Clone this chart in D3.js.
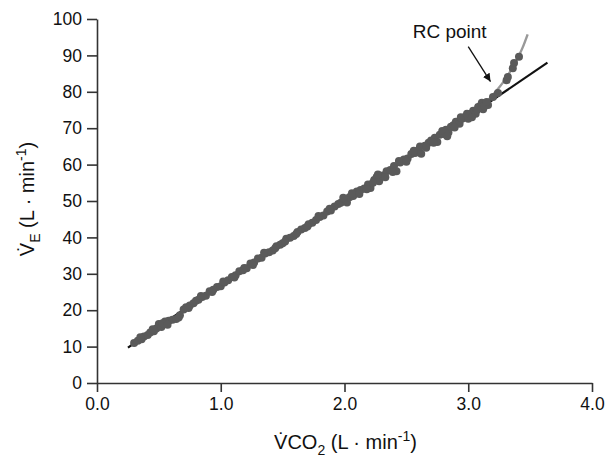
<!DOCTYPE html>
<meta charset="utf-8">
<script src="https://d3js.org/d3.v7.min.js"></script>
<style>
  body { margin: 0; background: #fff; }
  text { font-family: "Liberation Sans", Arial, Helvetica, sans-serif; }
</style>
<div id="my_dataviz"></div>
<script>

// breath-by-breath points (VCO2 L/min, VE L/min)
var vco2 = [0.30,0.33,0.36,0.38,0.41,0.43,0.46,0.48,0.50,0.52,0.55,0.58,0.61,0.64,0.67,0.70,0.72,0.75,0.78,0.80,
            0.82,0.85,0.88,0.91,0.94,0.97,1.00,1.03,1.06,1.09,1.12,1.15,1.18,1.21,1.24,1.27,1.30,1.33,1.36,1.39,
            1.42,1.45,1.48,1.50,1.53,1.56,1.59,1.62,1.65,1.68,1.71,1.74,1.77,1.80,1.83,1.86,1.89,1.92,1.95,1.97,
            2.00,2.02,2.04,2.07,2.10,2.13,2.16,2.19,2.21,2.24,2.26,2.28,2.31,2.34,2.37,2.40,2.42,2.45,2.48,2.51,
            2.54,2.57,2.60,2.62,2.65,2.68,2.70,2.73,2.75,2.77,2.80,2.82,2.84,2.86,2.88,2.90,2.93,2.95,2.97,3.00,
            3.02,3.04,3.06,3.08,3.10,3.12,3.14,3.16,
            0.35,0.45,0.53,0.57,0.66,0.74,0.84,0.93,1.02,1.11,1.19,1.26,1.35,1.44,1.52,1.61,1.70,1.79,1.88,1.99,
            2.06,2.12,2.18,2.23,2.27,2.33,2.39,2.44,2.50,2.56,2.61,2.66,2.72,2.79,2.83,2.89,2.94,2.99,3.03,3.07,
            3.11,3.13,
            3.15,3.20,3.24,3.31,3.32,3.36,3.37,3.41];
var ve   = [11.0,11.6,12.0,12.8,13.2,13.9,14.2,15.0,16.2,15.4,16.9,17.1,17.4,17.6,18.6,20.2,20.8,21.3,21.9,22.6,
            22.9,23.6,24.0,25.2,25.6,26.4,26.6,27.6,28.2,29.1,29.6,30.7,31.0,31.5,32.8,33.1,34.2,34.4,35.6,35.9,
            36.4,37.6,38.0,38.4,39.6,39.9,40.4,41.5,42.2,42.6,43.6,44.0,44.8,45.6,46.0,47.1,47.4,48.5,49.2,49.5,
            50.4,49.6,51.0,51.4,52.6,53.0,53.4,54.5,53.6,55.8,56.6,55.4,57.0,58.2,58.5,59.6,58.2,60.6,61.4,61.7,
            62.9,63.2,64.0,63.0,65.2,66.0,66.6,67.4,66.2,68.2,68.4,69.6,68.8,70.4,70.8,71.8,71.2,72.6,73.0,72.6,
            74.0,74.8,74.0,75.8,76.2,75.2,77.0,76.4,
            12.6,14.8,16.4,16.0,18.0,20.6,23.9,25.0,27.9,29.0,31.6,32.4,35.8,37.0,38.9,40.9,43.0,45.9,47.9,50.9,
            52.1,51.9,53.2,55.0,57.3,56.5,58.0,61.0,60.8,63.8,65.0,64.6,66.0,69.2,67.8,70.2,73.0,74.0,73.0,75.0,
            77.0,76.0,
            77.2,78.6,79.7,83.2,84.1,86.5,87.9,89.6];

// linear fit below the RC point
var fitX = [0.25, 3.64];
var fitY = [9.7, 88.0];

// curve above the RC point
var curveX = [3.10, 3.20, 3.30, 3.38, 3.44, 3.48];
var curveY = [75.6, 79.2, 83.5, 88.0, 92.2, 95.8];

// annotation
var rcLabel = "RC point";
var rcText = [2.85, 94.8];
var rcArrowFrom = [3.00, 92.4];
var rcArrowTo = [3.18, 82.8];

var xTicks = [0, 1, 2, 3, 4];
var yTicks = [0, 10, 20, 30, 40, 50, 60, 70, 80, 90, 100];

// set the dimensions and margins of the graph
var margin = {top: 19, right: 23, bottom: 74, left: 97},
    width = 615 - margin.left - margin.right,
    height = 457 - margin.top - margin.bottom;

var svg = d3.select("#my_dataviz")
  .append("svg")
    .attr("width", 615)
    .attr("height", 457)
  .append("g")
    .attr("transform", "translate(" + margin.left + "," + margin.top + ")");

var x = d3.scaleLinear().domain([0, 4]).range([0, width]);
var y = d3.scaleLinear().domain([0, 100]).range([height, 0]);

// arrow head
svg.append("defs").append("marker")
    .attr("id", "head")
    .attr("viewBox", "0 0 10 10")
    .attr("refX", 10).attr("refY", 5)
    .attr("markerWidth", 8).attr("markerHeight", 8)
    .attr("markerUnits", "userSpaceOnUse")
    .attr("orient", "auto")
  .append("path")
    .attr("d", "M0,0L10,5L0,10Z")
    .attr("fill", "#111");

// axes
var xAxis = svg.append("g")
    .attr("transform", "translate(0," + height + ")")
    .call(d3.axisBottom(x).tickValues(xTicks).tickFormat(d3.format(".1f")).tickSize(9).tickSizeOuter(0).tickPadding(6));
var yAxis = svg.append("g")
    .call(d3.axisLeft(y).tickValues(yTicks).tickSize(10).tickSizeOuter(0).tickPadding(5));

[xAxis, yAxis].forEach(function(a) {
  a.select(".domain").attr("stroke", "#333").attr("stroke-width", 1.6);
  a.selectAll(".tick line").attr("stroke", "#333").attr("stroke-width", 1.6);
  a.selectAll(".tick text").attr("fill", "#111").style("font-size", "17.5px")
    .style("font-family", "'Liberation Sans', Arial, Helvetica, sans-serif");
});

// fitted line
svg.append("path")
    .datum(d3.zip(fitX, fitY))
    .attr("fill", "none")
    .attr("stroke", "#111")
    .attr("stroke-width", 2.2)
    .attr("d", d3.line().x(function(d) { return x(d[0]); }).y(function(d) { return y(d[1]); }));

// curve after RC point
svg.append("path")
    .datum(d3.zip(curveX, curveY))
    .attr("fill", "none")
    .attr("stroke", "#999")
    .attr("stroke-width", 2.4)
    .attr("d", d3.line().curve(d3.curveMonotoneX).x(function(d) { return x(d[0]); }).y(function(d) { return y(d[1]); }));

// points
svg.selectAll("circle")
  .data(d3.zip(vco2, ve))
  .enter()
  .append("circle")
    .attr("cx", function(d) { return x(d[0]); })
    .attr("cy", function(d) { return y(d[1]); })
    .attr("r", 4)
    .attr("fill", "#5a5a5a");

// RC point annotation
svg.append("text")
    .attr("x", x(rcText[0]))
    .attr("y", y(rcText[1]))
    .attr("text-anchor", "middle")
    .style("font-size", "19px")
    .attr("fill", "#111")
    .text(rcLabel);
svg.append("line")
    .attr("x1", x(rcArrowFrom[0])).attr("y1", y(rcArrowFrom[1]))
    .attr("x2", x(rcArrowTo[0])).attr("y2", y(rcArrowTo[1]))
    .attr("stroke", "#111")
    .attr("stroke-width", 1.3)
    .attr("marker-end", "url(#head)");

// axis titles
var xt = svg.append("text")
    .attr("x", width / 2 + 1)
    .attr("y", height + 66)
    .attr("text-anchor", "middle")
    .style("font-size", "20px")
    .attr("fill", "#111");
xt.append("tspan").text("V\u0307CO");
xt.append("tspan").attr("dy", 6).style("font-size", "14px").text("2");
xt.append("tspan").attr("dy", -6).text(" (L \u00b7 min");
xt.append("tspan").attr("dy", -8).style("font-size", "14px").text("-1");
xt.append("tspan").attr("dy", 8).text(")");

var yt = svg.append("text")
    .attr("transform", "translate(" + (-63) + "," + (height / 2 - 2) + ") rotate(-90)")
    .attr("text-anchor", "middle")
    .style("font-size", "20px")
    .attr("fill", "#111");
yt.append("tspan").text("V\u0307");
yt.append("tspan").attr("dy", 6).style("font-size", "14px").text("E");
yt.append("tspan").attr("dy", -6).text(" (L \u00b7 min");
yt.append("tspan").attr("dy", -8).style("font-size", "14px").text("-1");
yt.append("tspan").attr("dy", 8).text(")");

</script>
